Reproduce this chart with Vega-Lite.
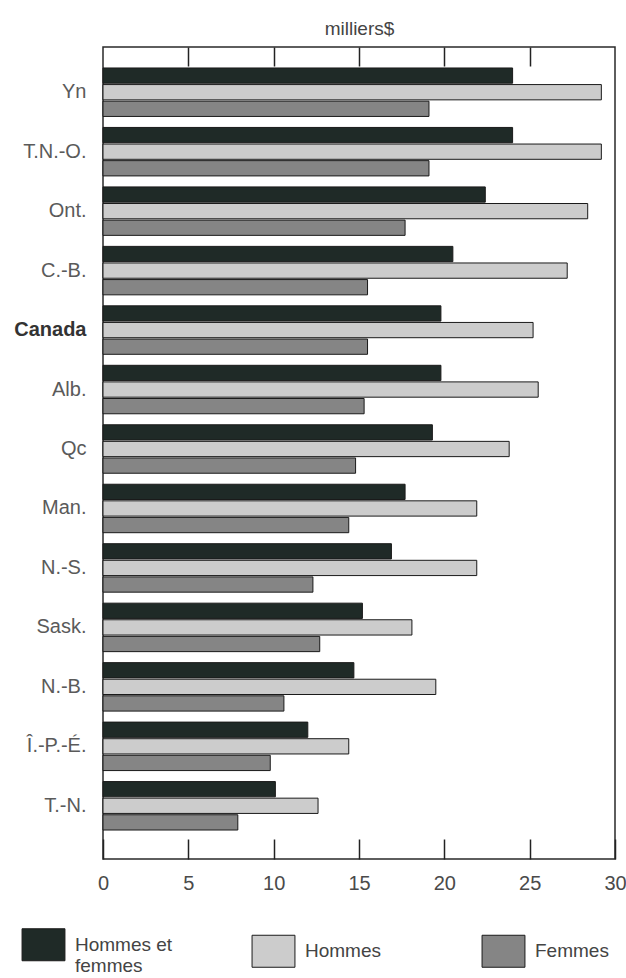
{
  "$schema": "https://vega.github.io/schema/vega-lite/v6.json",
  "autosize": {"type": "none"},
  "padding": {"left": 103, "top": 47, "right": 11, "bottom": 119},
  "width": 512,
  "height": 812,
  "background": "#ffffff",
  "config": {
    "font": "Liberation Sans",
    "view": {"stroke": "#2a2a2a", "strokeWidth": 1.5}
  },
  "data": {
    "values": [
      {"prov": "Yn", "serie": "Hommes et femmes", "val": 24.0},
      {"prov": "Yn", "serie": "Hommes", "val": 29.2},
      {"prov": "Yn", "serie": "Femmes", "val": 19.1},
      {"prov": "T.N.-O.", "serie": "Hommes et femmes", "val": 24.0},
      {"prov": "T.N.-O.", "serie": "Hommes", "val": 29.2},
      {"prov": "T.N.-O.", "serie": "Femmes", "val": 19.1},
      {"prov": "Ont.", "serie": "Hommes et femmes", "val": 22.4},
      {"prov": "Ont.", "serie": "Hommes", "val": 28.4},
      {"prov": "Ont.", "serie": "Femmes", "val": 17.7},
      {"prov": "C.-B.", "serie": "Hommes et femmes", "val": 20.5},
      {"prov": "C.-B.", "serie": "Hommes", "val": 27.2},
      {"prov": "C.-B.", "serie": "Femmes", "val": 15.5},
      {"prov": "Canada", "serie": "Hommes et femmes", "val": 19.8},
      {"prov": "Canada", "serie": "Hommes", "val": 25.2},
      {"prov": "Canada", "serie": "Femmes", "val": 15.5},
      {"prov": "Alb.", "serie": "Hommes et femmes", "val": 19.8},
      {"prov": "Alb.", "serie": "Hommes", "val": 25.5},
      {"prov": "Alb.", "serie": "Femmes", "val": 15.3},
      {"prov": "Qc", "serie": "Hommes et femmes", "val": 19.3},
      {"prov": "Qc", "serie": "Hommes", "val": 23.8},
      {"prov": "Qc", "serie": "Femmes", "val": 14.8},
      {"prov": "Man.", "serie": "Hommes et femmes", "val": 17.7},
      {"prov": "Man.", "serie": "Hommes", "val": 21.9},
      {"prov": "Man.", "serie": "Femmes", "val": 14.4},
      {"prov": "N.-S.", "serie": "Hommes et femmes", "val": 16.9},
      {"prov": "N.-S.", "serie": "Hommes", "val": 21.9},
      {"prov": "N.-S.", "serie": "Femmes", "val": 12.3},
      {"prov": "Sask.", "serie": "Hommes et femmes", "val": 15.2},
      {"prov": "Sask.", "serie": "Hommes", "val": 18.1},
      {"prov": "Sask.", "serie": "Femmes", "val": 12.7},
      {"prov": "N.-B.", "serie": "Hommes et femmes", "val": 14.7},
      {"prov": "N.-B.", "serie": "Hommes", "val": 19.5},
      {"prov": "N.-B.", "serie": "Femmes", "val": 10.6},
      {"prov": "Î.-P.-É.", "serie": "Hommes et femmes", "val": 12.0},
      {"prov": "Î.-P.-É.", "serie": "Hommes", "val": 14.4},
      {"prov": "Î.-P.-É.", "serie": "Femmes", "val": 9.8},
      {"prov": "T.-N.", "serie": "Hommes et femmes", "val": 10.1},
      {"prov": "T.-N.", "serie": "Hommes", "val": 12.6},
      {"prov": "T.-N.", "serie": "Femmes", "val": 7.9}
    ]
  },
  "encoding": {
    "y": {
      "field": "prov",
      "type": "nominal",
      "sort": null,
      "scale": {"paddingInner": 0.185, "paddingOuter": 0.42, "align": 0.42},
      "axis": {
        "title": null,
        "domain": false,
        "ticks": false,
        "labelPadding": 17,
        "labelFontSize": 20,
        "labelColor": {"expr": "datum.value == 'Canada' ? '#333333' : '#5a5a5a'"},
        "labelFontWeight": {"expr": "datum.value == 'Canada' ? 'bold' : 'normal'"}
      }
    },
    "yOffset": {
      "field": "serie",
      "type": "nominal",
      "sort": ["Hommes et femmes", "Hommes", "Femmes"],
      "scale": {"paddingInner": 0.08}
    }
  },
  "layer": [
    {
      "mark": {"type": "bar", "stroke": "#1a1a1a", "strokeWidth": 1},
      "encoding": {
        "x": {
          "field": "val",
          "type": "quantitative",
          "scale": {"domain": [0, 30], "nice": false},
          "axis": {
            "title": null,
            "orient": "bottom",
            "values": [0, 5, 10, 15, 20, 25, 30],
            "grid": false,
            "domain": false,
            "tickSize": -20,
            "tickColor": "#222222",
            "tickWidth": 1.5,
            "labelPadding": 34,
            "labelFontSize": 20,
            "labelColor": "#4a4a4a",
            "labelFlush": false
          }
        },
        "color": {
          "field": "serie",
          "type": "nominal",
          "sort": ["Hommes et femmes", "Hommes", "Femmes"],
          "scale": {
            "domain": ["Hommes et femmes", "Hommes", "Femmes"],
            "range": ["#1f2a27", "#cccccc", "#858585"]
          },
          "legend": {
            "title": null,
            "orient": "none",
            "legendX": -76,
            "legendY": 881,
            "direction": "horizontal",
            "columns": 3,
            "gridAlign": "all",
            "columnPadding": 77,
            "symbolType": "M-1.34,-1H1.34V1H-1.34Z",
            "symbolSize": 1024,
            "symbolStrokeColor": "#1a1a1a",
            "symbolStrokeWidth": 1,
            "symbolOpacity": 1,
            "labelFontSize": 19,
            "labelColor": "#444444",
            "labelOffset": 15,
            "labelLimit": 200,
            "labelExpr": "datum.label == 'Hommes et femmes' ? ['Hommes et', 'femmes'] : datum.label"
          }
        }
      }
    },
    {
      "mark": {"type": "bar", "opacity": 0},
      "encoding": {
        "x": {
          "field": "val",
          "type": "quantitative",
          "scale": {"domain": [0, 30], "nice": false},
          "axis": {
            "orient": "top",
            "title": "milliers$",
            "titleFontSize": 19,
            "titleFontWeight": "normal",
            "titleColor": "#444444",
            "titlePadding": 8,
            "values": [5, 10, 15, 20, 25],
            "labels": false,
            "grid": false,
            "domain": false,
            "tickSize": -19,
            "tickColor": "#222222",
            "tickWidth": 1.5
          }
        }
      }
    }
  ],
  "resolve": {"axis": {"x": "independent"}}
}
